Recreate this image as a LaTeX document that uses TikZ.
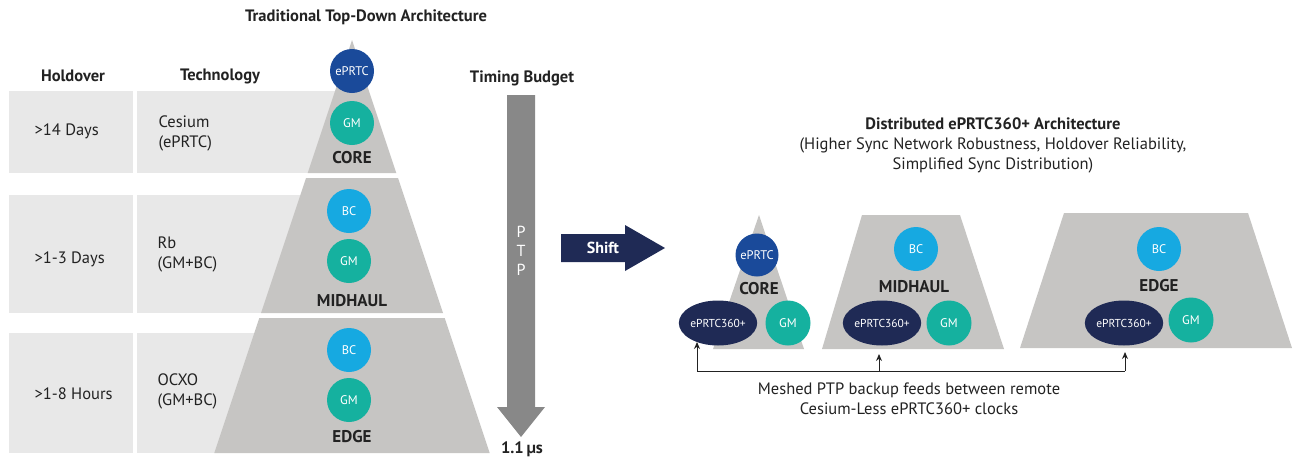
\documentclass[tikz,border=0pt]{standalone}
\usepackage{fontspec}
\setmainfont{PT Sans}
\usetikzlibrary{shapes.geometric,arrows.meta}
\definecolor{boxgray}{HTML}{E8E8E8}
\definecolor{pyr}{HTML}{C6C5C3}
\definecolor{eprtc}{HTML}{1A4A9A}
\definecolor{gmc}{HTML}{15B19F}
\definecolor{bcc}{HTML}{16A9E1}
\definecolor{navy}{HTML}{1F2A55}
\definecolor{arrgray}{HTML}{888888}
\definecolor{txt}{HTML}{222222}
\tikzset{
  cell/.style={fill=boxgray, draw=none},
  piece/.style={fill=pyr, draw=none},
  clk/.style={circle, minimum size=44pt, inner sep=0pt, text=white, font=\fontsize{12.5}{14}\selectfont},
  eprtcn/.style={clk, fill=eprtc},
  gmn/.style={clk, fill=gmc},
  bcn/.style={clk, fill=bcc},
  ellnode/.style={ellipse, minimum width=68pt, minimum height=45pt, inner sep=0pt, fill=navy, text=white, font=\fontsize{11.5}{13}\selectfont},
  lvl/.style={text=txt, font=\bfseries\fontsize{17}{19}\selectfont},
  head/.style={text=txt, font=\bfseries\fontsize{16.5}{19}\selectfont},
  body/.style={text=txt, font=\fontsize{16.5}{20}\selectfont, align=left, anchor=west},
  mesh/.style={draw=txt, line width=1pt, -{Stealth[length=7pt,width=6pt]}},
}
\begin{document}
\begin{tikzpicture}[x=1pt,y=-1pt]
\useasboundingbox (0,0) rectangle (1293,461);
% title left
\node[head] (tleft) at (366,17) {Traditional Top-Down Architecture};
\node[head] (hhold) at (73,76) {Holdover};
\node[head] (htech) at (220,76) {Technology};
% cells
\fill[cell] (9,91) rectangle (133,173);
\fill[cell] (137,91) rectangle (340,173);
\fill[cell] (9,195) rectangle (133,313);
\fill[cell] (137,195) rectangle (300,313);
\fill[cell] (9,333) rectangle (133,453);
\fill[cell] (137,333) rectangle (280,453);
% pyramid
\fill[piece] (352,40) -- (396.3,173) -- (307.7,173) -- cycle;
\fill[piece] (306,178) -- (398,178) -- (443,313) -- (261,313) -- cycle;
\fill[piece] (259.3,318) -- (444.7,318) -- (489.7,453) -- (214.3,453) -- cycle;
% row texts
\node[body] (r1a) at (31,131) {>14 Days};
\node[body] (r2a) at (31,259) {>1-3 Days};
\node[body] (r3a) at (31,394) {>1-8 Hours};
\node[body] (r1b) at (155,133) {Cesium\\(ePRTC)};
\node[body] (r2b) at (154,254) {Rb\\(GM+BC)};
\node[body] (r3b) at (154,391) {OCXO\\(GM+BC)};
% left clocks
\node[eprtcn] (le) at (352,71) {ePRTC};
\node[gmn] (lg1) at (352,123) {GM};
\node[lvl] (lcore) at (352,158) {CORE};
\node[bcn] (lb2) at (349,211) {BC};
\node[gmn] (lg2) at (349,261) {GM};
\node[lvl] (lmid) at (352,301) {MIDHAUL};
\node[bcn] (lb3) at (349,350) {BC};
\node[gmn] (lg3) at (349,400) {GM};
\node[lvl] (ledge) at (352,437) {EDGE};
% timing budget
\node[head] (tb) at (522,78) {Timing Budget};
\fill[arrgray] (507,95) -- (535,95) -- (535,407) -- (545,407) -- (521,437) -- (497,407) -- (507,407) -- cycle;
\node[text=white, font=\fontsize{16}{19}\selectfont, align=center] (ptp) at (521,251) {P\\T\\P};
\node[head] (us) at (522,449) {1.1\,µs};
% shift arrow
\fill[navy] (561,234) -- (625,234) -- (625,225) -- (665,248) -- (625,271) -- (625,262) -- (561,262) -- cycle;
\node[text=white, font=\bfseries\fontsize{16}{18}\selectfont] (shift) at (603,248) {Shift};
% right title
\node[text=txt, font=\fontsize{16.5}{20}\selectfont, align=center] (tright) at (993,145)
  {\textbf{Distributed ePRTC360+ Architecture}\\(Higher Sync Network Robustness, Holdover Reliability,\\Simplified Sync Distribution)};
% right pieces
\fill[piece] (759,215) -- (804,349) -- (713,349) -- cycle;
\fill[piece] (862,215) -- (960,215) -- (1004,349) -- (822,349) -- cycle;
\fill[piece] (1064,213) -- (1248,213) -- (1292,348) -- (1020,348) -- cycle;
% right clocks
\node[eprtcn, minimum size=43pt] (re) at (757,255) {ePRTC};
\node[lvl] (rcore) at (759,289) {CORE};
\node[ellnode] (rx1) at (718,323) {ePRTC360+};
\node[gmn, minimum size=45pt] (rg1) at (788,323) {GM};
\node[bcn] (rb2) at (916,249) {BC};
\node[lvl] (rmid) at (914,287) {MIDHAUL};
\node[ellnode] (rx2) at (882,323) {ePRTC360+};
\node[gmn, minimum size=45pt] (rg2) at (949,323) {GM};
\node[bcn] (rb3) at (1159,249) {BC};
\node[lvl] (redge) at (1159,286) {EDGE};
\node[ellnode] (rx3) at (1124,323) {ePRTC360+};
\node[gmn, minimum size=45pt] (rg3) at (1191,320) {GM};
% mesh connector
\coordinate (m1) at (697,371);
\coordinate (m2) at (879,371);
\coordinate (m3) at (1125,371);
\coordinate (t1) at (697,342);
\coordinate (t2) at (879,354);
\coordinate (t3) at (1125,352);
\draw[draw=txt, line width=1pt] (m1) -- (m3);
\draw[mesh] (m1) -- (t1);
\draw[mesh] (m2) -- (t2);
\draw[mesh] (m3) -- (t3);
\node[text=txt, font=\fontsize{16.5}{20}\selectfont, align=center] (meshtxt) at (909,399)
  {Meshed PTP backup feeds between remote\\Cesium-Less ePRTC360+ clocks};
\end{tikzpicture}
\end{document}
